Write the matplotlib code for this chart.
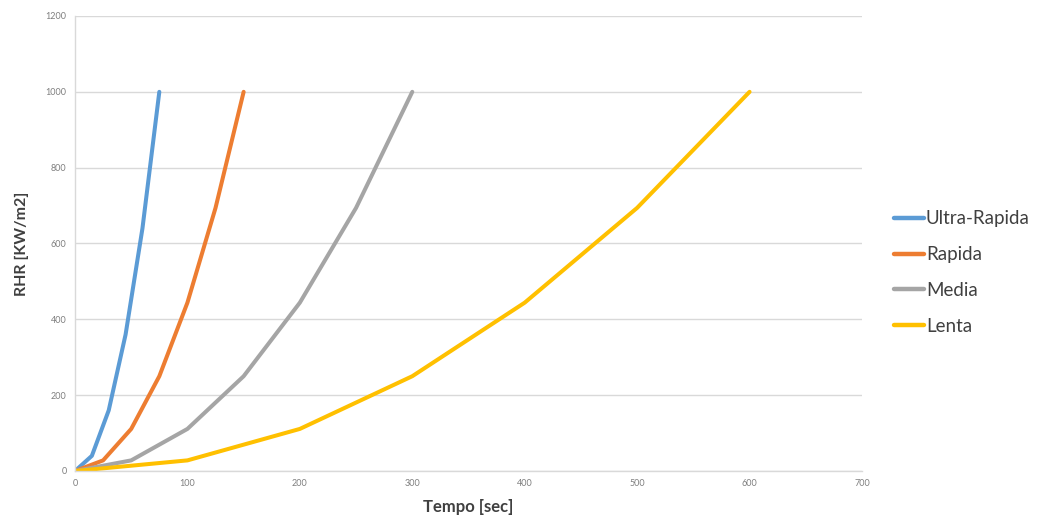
import matplotlib
matplotlib.use("Agg")
import matplotlib.pyplot as plt

series_names = ["Ultra-Rapida", "Rapida", "Media", "Lenta"]
ultra_t = [0, 15, 30, 45, 60, 75]
ultra_q = [0, 40, 160, 360, 640, 1000]
rapida_t = [0, 25, 50, 75, 100, 125, 150]
rapida_q = [0, 28, 111, 250, 444, 694, 1000]
media_t = [0, 50, 100, 150, 200, 250, 300]
media_q = [0, 28, 111, 250, 444, 694, 1000]
lenta_t = [0, 100, 200, 300, 400, 500, 600]
lenta_q = [0, 28, 111, 250, 444, 694, 1000]
x_ticks = [0, 100, 200, 300, 400, 500, 600, 700]
y_ticks = [0, 200, 400, 600, 800, 1000, 1200]
colors = ["#5B9BD5", "#ED7D31", "#A5A5A5", "#FFC000"]

plt.rcParams['font.family'] = ['Lato', 'DejaVu Sans']

fig = plt.figure(figsize=(10.44, 5.17), dpi=100)
ax = fig.add_axes([75/1044, 1 - 471/517, (862-75)/1044, (471-16)/517])

data = [(ultra_t, ultra_q), (rapida_t, rapida_q), (media_t, media_q), (lenta_t, lenta_q)]
for (t, q), name, c in zip(data, series_names, colors):
    ax.plot(t, q, color=c, lw=2.9, label=name, solid_joinstyle='round', solid_capstyle='round')

ax.set_xlim(0, 700)
ax.set_ylim(0, 1200)
ax.set_xticks(x_ticks)
ax.set_yticks(y_ticks)
ax.tick_params(length=0, labelsize=6.5, labelcolor="#7f7f7f", pad=6)
ax.grid(axis='y', color="#d9d9d9", lw=1)
ax.set_axisbelow(True)
for s in ["top", "right"]:
    ax.spines[s].set_visible(False)
for s in ["left", "bottom"]:
    ax.spines[s].set_color("#d9d9d9")
    ax.spines[s].set_linewidth(1)

ax.set_xlabel("Tempo [sec]", fontsize=12, fontweight='bold', color="#404040", labelpad=8)
ax.set_ylabel("RHR [KW/m2]", fontsize=11.5, fontweight='bold', color="#404040", labelpad=12)

leg = ax.legend(loc='center left', bbox_to_anchor=(1.031, 0.436), frameon=False,
                fontsize=13.5, handlelength=1.6, handletextpad=0.1, labelspacing=1.0,
                labelcolor="#404040", borderaxespad=0)
for line in leg.get_lines():
    line.set_linewidth(3.2)

fig.savefig("out.png", dpi=100)
